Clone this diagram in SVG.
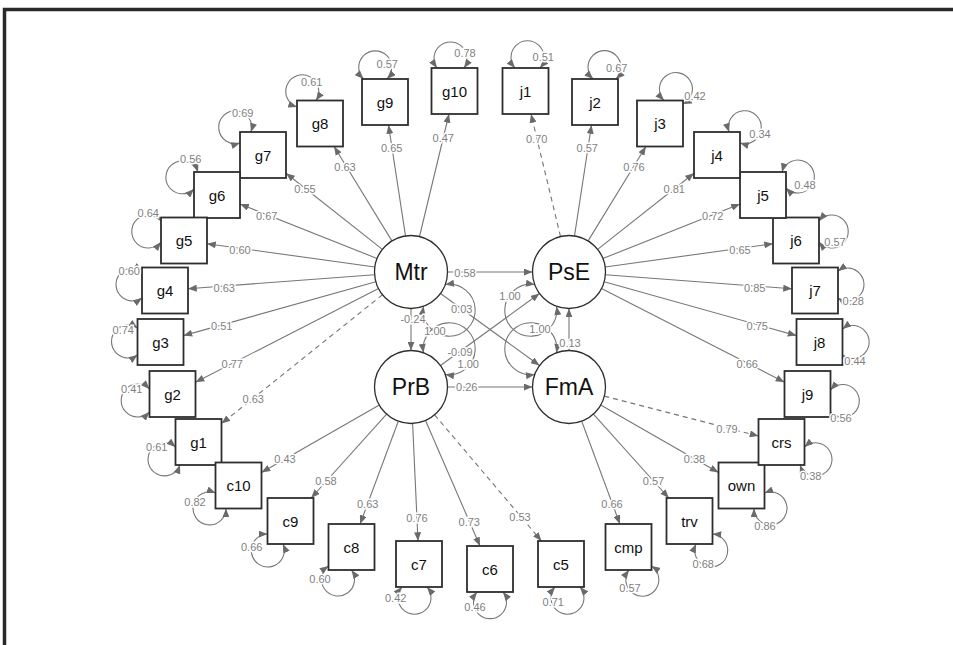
<svg xmlns="http://www.w3.org/2000/svg" width="953" height="645" viewBox="0 0 953 645">
<defs>
<marker id="ah" viewBox="0 0 10 8" refX="10" refY="4" markerWidth="9" markerHeight="7" markerUnits="userSpaceOnUse" orient="auto-start-reverse">
<path d="M0,0 L10,4 L0,8 z" fill="#6a6a6a"/>
</marker>
<style>
.n rect{fill:#fff;stroke:#2e2e2e;stroke-width:1.8}
.n circle{fill:#fff;stroke:#2e2e2e;stroke-width:1.3}
.n text{font-family:"Liberation Sans",Arial,sans-serif;font-size:15px;fill:#111;text-anchor:middle;dominant-baseline:central}
.n.lat text{font-size:23px}
.e{stroke:#777;stroke-width:1.1;fill:none;marker-end:url(#ah)}
.d{stroke-dasharray:5 4}
.lp{fill:none;stroke:#777;stroke-width:1.1;marker-start:url(#ah);marker-end:url(#ah)}
.lb{font-family:"Liberation Sans",Arial,sans-serif;font-size:11px;fill:#7f7f7f;text-anchor:middle;dominant-baseline:central;stroke:#fff;stroke-width:3;paint-order:stroke}
</style>
</defs>
<rect width="953" height="645" fill="#fff"/>
<path d="M4.5,645 V9.5 H953" fill="none" stroke="#2a2a2a" stroke-width="3.5"/>

<g id="connectors">
<!-- latent to latent -->
<path class="e" d="M447.5,272 L532.5,272"/>
<path class="e" d="M447.5,387 L532.5,387"/>
<path class="e" d="M411,308.5 L411,350.5"/>
<path class="e" d="M569,350.5 L569,308.5"/>
<path class="e" d="M440.5,293.5 L539.5,365.5"/>
<path class="e" d="M440.5,365.5 L539.5,293.5"/>
<!-- latent variances -->
<path class="lp" d="M423.5,306.3 A26,26 0 1 0 445.3,284.5"/>
<path class="lp" d="M445.3,374.5 A26,26 0 1 0 423.5,352.7"/>
<path class="lp" d="M534.7,284.5 A26,26 0 1 0 556.5,306.3"/>
<path class="lp" d="M556.5,352.7 A26,26 0 1 0 534.7,374.5"/>
<!-- Mtr loadings -->
<path class="e" d="M419.5,236.5 L449,114"/>
<path class="e" d="M405.5,235.9 L388.5,125"/>
<path class="e" d="M391.9,240.9 L334.1,146.5"/>
<path class="e" d="M382.4,249.4 L286,173.2"/>
<path class="e" d="M377.1,258.5 L240,204.1"/>
<path class="e" d="M374.8,267 L207,243.7"/>
<path class="e" d="M374.6,274.7 L188,288.8"/>
<path class="e" d="M375.8,281.8 L183.5,335.6"/>
<path class="e" d="M378.5,288.6 L195.5,382.2"/>
<path class="e d" d="M382.5,294.8 L221.5,423.6"/>
<!-- PsE loadings -->
<path class="e d" d="M560.5,236.5 L531,114"/>
<path class="e" d="M574.5,235.9 L591.5,125"/>
<path class="e" d="M588.1,240.9 L645.9,146.5"/>
<path class="e" d="M597.6,249.4 L694,173.2"/>
<path class="e" d="M602.9,258.5 L740,204.1"/>
<path class="e" d="M605.2,267 L773,243.7"/>
<path class="e" d="M605.4,274.7 L792,288.8"/>
<path class="e" d="M604.2,281.8 L796.5,335.6"/>
<path class="e" d="M601.5,288.6 L784.5,382.2"/>
<!-- PrB loadings -->
<path class="e" d="M379.3,405.1 L261.5,472.4"/>
<path class="e" d="M386.6,414.1 L311.2,498"/>
<path class="e" d="M398.3,421.2 L360.1,524"/>
<path class="e" d="M412.6,423.5 L418,541"/>
<path class="e" d="M425.5,420.5 L480,546"/>
<path class="e d" d="M434.6,414.8 L541.5,541"/>
<!-- FmA loadings -->
<path class="e d" d="M604.3,396.1 L758.5,436"/>
<path class="e" d="M600.7,405.1 L718.5,472.4"/>
<path class="e" d="M593.4,414.1 L668.8,498"/>
<path class="e" d="M581.7,421.2 L619.9,524"/>
<!-- residual loops -->
<path class="lp" d="M464,68 A16.5,16.5 0 1 0 437,68"/>
<path class="lp" d="M387,79 A16.5,16.5 0 1 0 363.5,79"/>
<path class="lp" d="M316,100.5 A16.5,16.5 0 1 0 297,107"/>
<path class="lp" d="M251,132 A16.5,16.5 0 1 0 240,143"/>
<path class="lp" d="M198,172 A16.5,16.5 0 1 0 194,189"/>
<path class="lp" d="M161,221 A16.5,16.5 0 1 0 161,242"/>
<path class="lp" d="M142,271 A16.5,16.5 0 1 0 142,298"/>
<path class="lp" d="M137.5,328 A16.5,16.5 0 1 0 137.5,355"/>
<path class="lp" d="M149.5,389 A16.5,16.5 0 1 0 149.5,412"/>
<path class="lp" d="M175.5,447 A16.5,16.5 0 1 0 180,465"/>
<path class="lp" d="M215.5,493 A16.5,16.5 0 1 0 226,508.5"/>
<path class="lp" d="M267.5,534 A16.5,16.5 0 1 0 283,544"/>
<path class="lp" d="M328.5,566 A16.5,16.5 0 1 0 351.5,570"/>
<path class="lp" d="M402,587 A16.5,16.5 0 1 0 427,587"/>
<path class="lp" d="M477,592 A16.5,16.5 0 1 0 503,592"/>
<path class="lp" d="M555,587 A16.5,16.5 0 1 0 580,587"/>
<path class="lp" d="M629,570 A16.5,16.5 0 1 0 651.5,566"/>
<path class="lp" d="M696,544 A16.5,16.5 0 1 0 712.5,534"/>
<path class="lp" d="M754,508.5 A16.5,16.5 0 1 0 764.5,493"/>
<path class="lp" d="M800,465 A16.5,16.5 0 1 0 804.5,447"/>
<path class="lp" d="M830.5,412 A16.5,16.5 0 1 0 830.5,390"/>
<path class="lp" d="M842.5,355 A16.5,16.5 0 1 0 842.5,329"/>
<path class="lp" d="M838,298 A16.5,16.5 0 1 0 838,271"/>
<path class="lp" d="M819,242 A16.5,16.5 0 1 0 819,221"/>
<path class="lp" d="M786,188 A16.5,16.5 0 1 0 782,172"/>
<path class="lp" d="M740,143 A16.5,16.5 0 1 0 729,132"/>
<path class="lp" d="M683,104 A16.5,16.5 0 1 0 664,100.5"/>
<path class="lp" d="M616,79 A16.5,16.5 0 1 0 593,79"/>
<path class="lp" d="M540,68 A16.5,16.5 0 1 0 515,68"/>
</g>

<g id="nodes">
<g id="Mtr" class="n lat"><circle cx="411" cy="272" r="36.5"/><text x="411" y="272">Mtr</text></g>
<g id="PsE" class="n lat"><circle cx="569" cy="272" r="36.5"/><text x="569" y="272">PsE</text></g>
<g id="PrB" class="n lat"><circle cx="411" cy="387" r="36.5"/><text x="411" y="387">PrB</text></g>
<g id="FmA" class="n lat"><circle cx="569" cy="387" r="36.5"/><text x="569" y="387">FmA</text></g>
<g id="g10" class="n"><rect x="431.5" y="68" width="46" height="46"/><text x="454.5" y="91">g10</text></g>
<g id="g9" class="n"><rect x="362" y="79" width="46" height="46"/><text x="385" y="102">g9</text></g>
<g id="g8" class="n"><rect x="297" y="100.5" width="46" height="46"/><text x="320" y="123.5">g8</text></g>
<g id="g7" class="n"><rect x="240" y="132" width="46" height="46"/><text x="263" y="155">g7</text></g>
<g id="g6" class="n"><rect x="194" y="172" width="46" height="46"/><text x="217" y="195">g6</text></g>
<g id="g5" class="n"><rect x="161" y="217.5" width="46" height="46"/><text x="184" y="240.5">g5</text></g>
<g id="g4" class="n"><rect x="142" y="267.5" width="46" height="46"/><text x="165" y="290.5">g4</text></g>
<g id="g3" class="n"><rect x="137.5" y="319" width="46" height="46"/><text x="160.5" y="342">g3</text></g>
<g id="g2" class="n"><rect x="149.5" y="371" width="46" height="46"/><text x="172.5" y="394">g2</text></g>
<g id="g1" class="n"><rect x="175.5" y="419" width="46" height="46"/><text x="198.5" y="442">g1</text></g>
<g id="c10" class="n"><rect x="215.5" y="462.5" width="46" height="46"/><text x="238.5" y="485.5">c10</text></g>
<g id="c9" class="n"><rect x="267.5" y="498" width="46" height="46"/><text x="290.5" y="521">c9</text></g>
<g id="c8" class="n"><rect x="328.5" y="524" width="46" height="46"/><text x="351.5" y="547">c8</text></g>
<g id="c7" class="n"><rect x="396" y="541" width="46" height="46"/><text x="419" y="564">c7</text></g>
<g id="c6" class="n"><rect x="467" y="546" width="46" height="46"/><text x="490" y="569">c6</text></g>
<g id="c5" class="n"><rect x="538" y="541" width="46" height="46"/><text x="561" y="564">c5</text></g>
<g id="cmp" class="n"><rect x="605.5" y="524" width="46" height="46"/><text x="628.5" y="547">cmp</text></g>
<g id="trv" class="n"><rect x="666.5" y="498" width="46" height="46"/><text x="689.5" y="521">trv</text></g>
<g id="own" class="n"><rect x="718.5" y="462.5" width="46" height="46"/><text x="741.5" y="485.5">own</text></g>
<g id="crs" class="n"><rect x="758.5" y="419" width="46" height="46"/><text x="781.5" y="442">crs</text></g>
<g id="j9" class="n"><rect x="784.5" y="371" width="46" height="46"/><text x="807.5" y="394">j9</text></g>
<g id="j8" class="n"><rect x="796.5" y="319" width="46" height="46"/><text x="819.5" y="342">j8</text></g>
<g id="j7" class="n"><rect x="792" y="267.5" width="46" height="46"/><text x="815" y="290.5">j7</text></g>
<g id="j6" class="n"><rect x="773" y="217.5" width="46" height="46"/><text x="796" y="240.5">j6</text></g>
<g id="j5" class="n"><rect x="740" y="172" width="46" height="46"/><text x="763" y="195">j5</text></g>
<g id="j4" class="n"><rect x="694" y="132" width="46" height="46"/><text x="717" y="155">j4</text></g>
<g id="j3" class="n"><rect x="637" y="100.5" width="46" height="46"/><text x="660" y="123.5">j3</text></g>
<g id="j2" class="n"><rect x="572" y="79" width="46" height="46"/><text x="595" y="102">j2</text></g>
<g id="j1" class="n"><rect x="502.5" y="68" width="46" height="46"/><text x="525.5" y="91">j1</text></g>
</g>

<g id="edge-labels" class="lb">
<text x="465" y="273">0.58</text>
<text x="466.7" y="386.5">0.26</text>
<text x="413" y="318.5">-0.24</text>
<text x="570" y="342.7">0.13</text>
<text x="461.7" y="309.3">0.03</text>
<text x="460" y="351.7">-0.09</text>
<text x="435" y="331">1.00</text>
<text x="468.3" y="364">1.00</text>
<text x="510" y="296">1.00</text>
<text x="540" y="329.3">1.00</text>
<text x="443.3" y="138.3">0.47</text>
<text x="391.7" y="147.7">0.65</text>
<text x="345" y="166.7">0.63</text>
<text x="305" y="189">0.55</text>
<text x="266.7" y="215.7">0.67</text>
<text x="240" y="250">0.60</text>
<text x="224.3" y="287.7">0.63</text>
<text x="221.7" y="326">0.51</text>
<text x="232.3" y="364">0.77</text>
<text x="253.3" y="399.3">0.63</text>
<text x="536.7" y="139">0.70</text>
<text x="587.3" y="147.7">0.57</text>
<text x="634" y="166.7">0.76</text>
<text x="674.3" y="189.3">0.81</text>
<text x="712.7" y="215.7">0.72</text>
<text x="740" y="250">0.65</text>
<text x="754.7" y="287.7">0.85</text>
<text x="757.3" y="326">0.75</text>
<text x="747.3" y="364">0.66</text>
<text x="285" y="459">0.43</text>
<text x="326" y="481">0.58</text>
<text x="367.7" y="504">0.63</text>
<text x="417" y="517.5">0.76</text>
<text x="469.3" y="521.5">0.73</text>
<text x="520" y="516.5">0.53</text>
<text x="727" y="429">0.79</text>
<text x="694.5" y="459">0.38</text>
<text x="653.5" y="481">0.57</text>
<text x="612" y="504">0.66</text>
<text x="465" y="53.3">0.78</text>
<text x="387.3" y="64">0.57</text>
<text x="311.7" y="82.3">0.61</text>
<text x="242.7" y="113.3">0.69</text>
<text x="190.7" y="159">0.56</text>
<text x="148.3" y="212.7">0.64</text>
<text x="129.3" y="271">0.60</text>
<text x="123.3" y="330">0.74</text>
<text x="131.7" y="389.3">0.41</text>
<text x="156.7" y="446.7">0.61</text>
<text x="195" y="501.7">0.82</text>
<text x="251.7" y="546.7">0.66</text>
<text x="320" y="579">0.60</text>
<text x="395.7" y="598.3">0.42</text>
<text x="475" y="607.3">0.46</text>
<text x="553.3" y="601.7">0.71</text>
<text x="630" y="588.3">0.57</text>
<text x="703.3" y="564">0.68</text>
<text x="765" y="526">0.86</text>
<text x="810.7" y="476">0.38</text>
<text x="841" y="418">0.56</text>
<text x="855" y="360.7">0.44</text>
<text x="853.3" y="301">0.28</text>
<text x="835" y="241.7">0.57</text>
<text x="805" y="185">0.48</text>
<text x="760" y="134">0.34</text>
<text x="695" y="95.7">0.42</text>
<text x="616.7" y="68.3">0.67</text>
<text x="543.3" y="56.7">0.51</text>
</g>
</svg>
